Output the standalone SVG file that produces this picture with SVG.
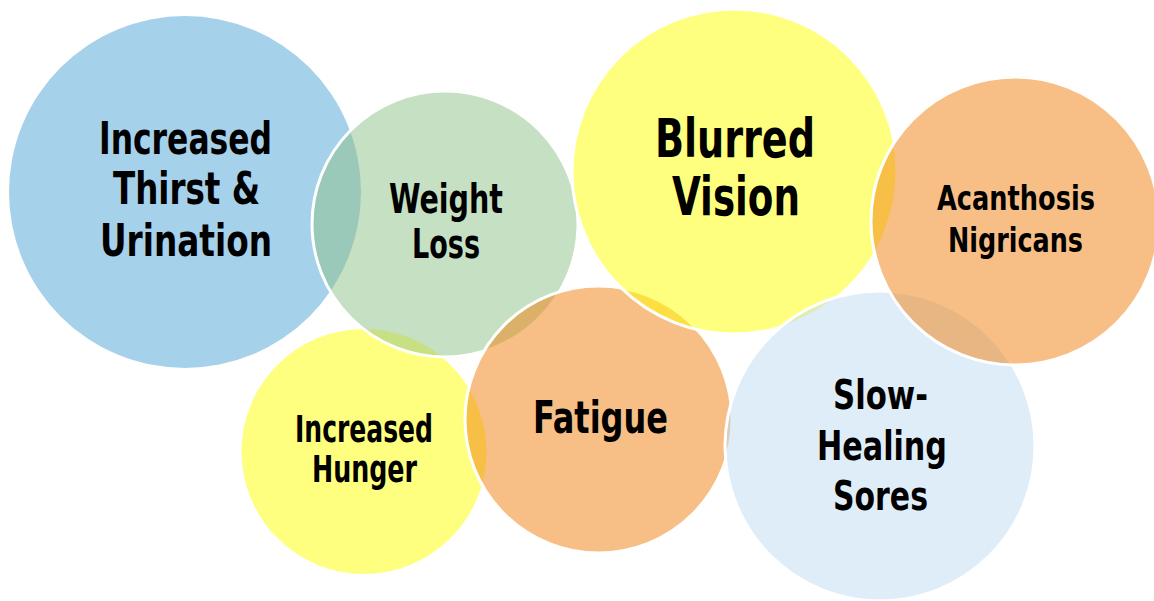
<svg xmlns="http://www.w3.org/2000/svg" width="1154" height="601" viewBox="0 0 1154 601">
<style>
.c{stroke:#ffffff;stroke-width:3;fill-opacity:0.5}
.t{font-family:"DejaVu Sans Condensed","DejaVu Sans","Liberation Sans",sans-serif;font-weight:bold;fill:#000000;text-anchor:middle}
</style>
<rect width="1154" height="601" fill="#ffffff"/>
<g id="thirst">
<circle class="c" cx="185" cy="192" r="176" fill="#4DA3D5" stroke="none" style="stroke:none"/>
<text class="t" font-size="44" x="185.5" y="154" textLength="173" lengthAdjust="spacingAndGlyphs">Increased</text>
<text class="t" font-size="44" x="186.5" y="204" textLength="147" lengthAdjust="spacingAndGlyphs">Thirst &amp;</text>
<text class="t" font-size="44" x="186" y="256" textLength="172" lengthAdjust="spacingAndGlyphs">Urination</text>
</g>
<g id="hunger">
<circle class="c" cx="364" cy="451.5" r="124" fill="#FFFF00"/>
<text class="t" font-size="37" x="364" y="442" textLength="138" lengthAdjust="spacingAndGlyphs">Increased</text>
<text class="t" font-size="37" x="364.5" y="482" textLength="105" lengthAdjust="spacingAndGlyphs">Hunger</text>
</g>
<g id="weight">
<circle class="c" cx="445" cy="224" r="133" fill="#8DC187"/>
<text class="t" font-size="40" x="446" y="213" textLength="114" lengthAdjust="spacingAndGlyphs">Weight</text>
<text class="t" font-size="40" x="446" y="258" textLength="68" lengthAdjust="spacingAndGlyphs">Loss</text>
</g>
<g id="fatigue">
<circle class="c" cx="598.5" cy="419.5" r="133.5" fill="#EF7F0D"/>
<text class="t" font-size="44" x="600.5" y="433" textLength="135" lengthAdjust="spacingAndGlyphs">Fatigue</text>
</g>
<g id="vision">
<circle class="c" cx="734.5" cy="171.5" r="162.5" fill="#FFFF00"/>
<text class="t" font-size="53" x="735" y="157" textLength="160" lengthAdjust="spacingAndGlyphs">Blurred</text>
<text class="t" font-size="53" x="736" y="215" textLength="128" lengthAdjust="spacingAndGlyphs">Vision</text>
</g>
<g id="sores">
<circle class="c" cx="880" cy="446" r="155" fill="#BDDBEF"/>
<text class="t" font-size="40" x="880.5" y="409" textLength="95" lengthAdjust="spacingAndGlyphs">Slow-</text>
<text class="t" font-size="40" x="882" y="460" textLength="130" lengthAdjust="spacingAndGlyphs">Healing</text>
<text class="t" font-size="40" x="880.5" y="510" textLength="95" lengthAdjust="spacingAndGlyphs">Sores</text>
</g>
<g id="acanthosis">
<circle class="c" cx="1015" cy="221" r="144" fill="#EF7F0D"/>
<text class="t" font-size="34" x="1016" y="210" textLength="158" lengthAdjust="spacingAndGlyphs">Acanthosis</text>
<text class="t" font-size="34" x="1015.5" y="252" textLength="135" lengthAdjust="spacingAndGlyphs">Nigricans</text>
</g>
<g id="connectors"/>
</svg>
